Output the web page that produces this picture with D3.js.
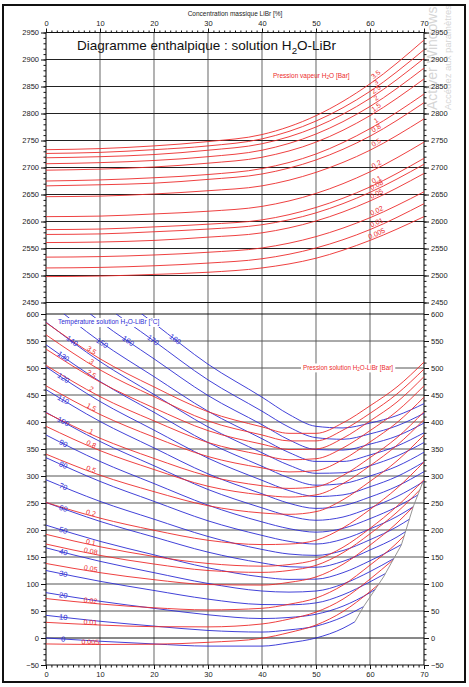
<!DOCTYPE html>
<html><head><meta charset="utf-8">
<script src="https://cdn.jsdelivr.net/npm/d3@7"></script>
<style>body{margin:0;background:#fff}svg{display:block;font-family:"Liberation Sans",Arial,sans-serif}</style>
</head><body><svg id="c" width="469" height="687"></svg>
<script>
// ---------- DATA ----------
const concTicks = [0,10,20,30,40,50,60,70];
const vapTicks = [2450,2500,2550,2600,2650,2700,2750,2800,2850,2900,2950];
const solTicks = [-50,0,50,100,150,200,250,300,350,400,450,500,550,600];

// top chart: vapour enthalpy vs concentration, one series per pressure
const vapourX = [0,10,20,30,40,50,60,70];
const vapourPressures = ["3.5","3","2.5","2","1.5","1","0.8","0.5","0.2","0.1","0.08","0.05","0.02","0.01","0.005"];
const vapourH = [
 [2733,2735,2740,2748,2761,2796,2855,2936],
 [2726,2728,2733,2740,2753,2786,2841,2918],
 [2718,2720,2724,2732,2744,2775,2828,2902],
 [2707,2709,2713,2720,2732,2762,2813,2884],
 [2695,2697,2701,2708,2719,2747,2796,2864],
 [2675,2677,2681,2687,2698,2725,2772,2836],
 [2666,2668,2671,2678,2688,2714,2758,2820],
 [2646,2647,2651,2657,2666,2691,2732,2790],
 [2609,2610,2614,2619,2628,2652,2692,2747],
 [2585,2586,2590,2595,2603,2626,2664,2717],
 [2576,2577,2581,2586,2594,2616,2654,2706],
 [2561,2562,2565,2571,2579,2601,2638,2689],
 [2534,2535,2538,2543,2551,2572,2607,2655],
 [2514,2515,2518,2523,2531,2551,2585,2633],
 [2498,2499,2502,2506,2514,2532,2565,2609]
];
const vapourLabelX = 61.5;

// bottom chart: solution enthalpy
const solX = [0,10,20,30,40,45,50,55,60,65,70];
const isoTemps = [0,10,20,30,40,50,60,70,80,90,100,110,120,130,140,150,160,170,180];
const isoH = [
 [0,-6,-11,-15,-15,-9,0,18],
 [42,31,22,14,11,15,22,39],
 [84,68,55,43,36,38,44,59,84],
 [125,105,88,72,62,61.5,65,80,104],
 [167,142,121,101,87,85,87,100,123],
 [209,179,154,130,113,108.5,109,121,143,168.5],
 [251,216,187,159,139,132,131,142,163,187],
 [293,253,220,188,164,155.5,153,162,182,206],
 [334,290,253,217,190,179,174,183,202,225],
 [376,327,286,246,215,202.5,196,203,221,243],
 [418,364,319,275,241,226,218,224,241,262,290],
 [460,401,352,304,267,249.5,240,245,261,281,308],
 [502,438,385,333,292,273,262,265,280,299,326],
 [543,475,418,362,318,296.5,283,286,300,318,344],
 [585,512,451,391,343,320,305,306,319,337,362],
 [627,549,484,420,369,343.5,327,327,339,355.5,380],
 [669,586,517,449,395,367,349,348,359,374,398],
 [711,623,550,478,420,390.5,371,368,378,393,416],
 [752,660,583,507,446,414,392,389,398,412,434]
];
const isoEnd = [[57.2,30],[58.8,58],[61,90],[62.8,119],[64.4,147],[65.8,173],[66.6,197],[67.3,220],[68,243],[68.9,265],
  null,null,null,null,null,null,null,null,null];
const isoLabelX = [3.2,3.2,3.2,3.2,3.2,3.2,3.2,3.2,3.2,3.2,3.2,3.2,3.2,3.2,4.8,10.4,15.2,19.8,23.9];

const solPressures = ["0.005","0.01","0.02","0.05","0.08","0.1","0.2","0.5","0.8","1","1.5","2","2.5","3","3.5"];
const solH = [
 [-11,-12,-11.5,-8,-0.5,10,24,49,86],
 [29,24,21,20.6,26,35,48,72,109],
 [73,63,56,52,55,62.5,74,98,135,176],
 [138,121,108,99,98,103,113,136.5,172,213],
 [174,153,137,125,121.5,125,134.5,158,193,233],
 [192,169,151,138,133,136,145,168,203,244,293],
 [251,222,199.5,181,173,174,181,204,238,277.5,326],
 [340.5,301.5,271,245,231.5,229,234,256,290,328,376],
 [392,347,312,281,265,261,265,286,319,357,404.5],
 [417,370,332.5,300,282,277,280,301,334,371,419],
 [467,414,372,336,315,307.5,310,330.5,363,399,446],
 [505,447,402,362,339,330,332,352,384,420,467],
 [535,474,426,384,359,349,350,370,402,437,484],
 [561.5,496.5,447,402,376,365,365,385,416,452,498],
 [584,517,465,419,391,379,379,398.5,430,465,511]
];
const solEnd = [[61.7,100],[64.3,145],[66.4,190],[68,243],[69.3,275],null,null,null,null,null,null,null,null,null,null];
const solLabelX = 8.2;

const crystalX = [57.2,58.8,62.5,65.8,68,69.8];
const crystalH = [30,58,113,172,243,289];

// ---------- DRAW ----------
const RED = "#ec2b2b", BLUE = "#2c2cd4";
const svg = d3.select("#c");
const x = d3.scaleLinear().domain([0,70]).range([46,424]);
const yT = d3.scaleLinear().domain([2450,2950]).range([302.5,32.5]);
const yB = d3.scaleLinear().domain([-50,600]).range([665,314]);

svg.append("rect").attr("width",469).attr("height",687).attr("fill","#fff");
const defs = svg.append("defs");
defs.append("clipPath").attr("id","cT").append("rect").attr("x",46).attr("y",32.5).attr("width",378).attr("height",270);
defs.append("clipPath").attr("id","cB").append("rect").attr("x",46).attr("y",314).attr("width",378).attr("height",351);

// watermark
const wm = svg.append("g").attr("fill","#d6d6d6");
wm.append("text").attr("transform","translate(437,110) rotate(-90)").attr("font-size",14).text("Activer Windows");
wm.append("text").attr("transform","translate(451,110) rotate(-90)").attr("font-size",9.5).text("Accédez aux paramètres");

// grid
const grid = svg.append("g");
[10,20,30,40,50,60].forEach(c=>{
  grid.append("line").attr("x1",x(c)).attr("x2",x(c)).attr("y1",yT(2950)).attr("y2",yB(-50)).attr("stroke","#747474").attr("stroke-width",1.1);
});
vapTicks.filter(v=>v>2450&&v<2950).forEach(v=>{
  grid.append("line").attr("x1",46).attr("x2",424).attr("y1",yT(v)).attr("y2",yT(v)).attr("stroke","#222").attr("stroke-width",1);
});
solTicks.filter(v=>v>-50&&v<600).forEach(v=>{
  grid.append("line").attr("x1",46).attr("x2",424).attr("y1",yB(v)).attr("y2",yB(v)).attr("stroke", v===0?"#111":"#555").attr("stroke-width",1);
});
[yT(2950),yT(2450),yB(600),yB(-50)].forEach(yy=>{
  grid.append("line").attr("x1",46).attr("x2",424).attr("y1",yy).attr("y2",yy).attr("stroke","#111").attr("stroke-width",1.1);
});
[46,424].forEach(xx=>{
  grid.append("line").attr("x1",xx).attr("x2",xx).attr("y1",yT(2950)).attr("y2",yB(-50)).attr("stroke","#111").attr("stroke-width",1.1);
});

const line = (ys)=> d3.line().x(d=>x(d[0])).y(d=>ys(d[1])).curve(d3.curveMonotoneX);

function pts(xs, vals, end){
  const p = vals.map((v,i)=>[xs[i],v]);
  if(end) p.push(end);
  return p;
}
function labelAt(p, lx, ys){
  let i = 0;
  for(let k=0;k<p.length-1;k++){ if(p[k][0]<=lx && p[k+1][0]>=lx){i=k;break;} }
  const a=p[i], b=p[i+1];
  const t=(lx-a[0])/(b[0]-a[0]);
  const v=a[1]+t*(b[1]-a[1]);
  const ang=Math.atan2(ys(b[1])-ys(a[1]), x(b[0])-x(a[0]))*180/Math.PI;
  return {px:x(lx), py:ys(v), ang};
}

// top curves
const gT = svg.append("g").attr("clip-path","url(#cT)");
const gTL = svg.append("g");
vapourH.forEach((vals,i)=>{
  const p = pts(vapourX, vals, null);
  gT.append("path").attr("d", line(yT)(p)).attr("fill","none").attr("stroke",RED).attr("stroke-width",0.9);
  const L = labelAt(p, vapourLabelX, yT);
  gTL.append("text").attr("transform",`translate(${L.px},${L.py}) rotate(${L.ang})`)
    .attr("y",-1.2).attr("text-anchor","middle").attr("font-size",7).attr("fill",RED).text(vapourPressures[i]);
});

// bottom curves
const gB = svg.append("g").attr("clip-path","url(#cB)");
const gBL = svg.append("g");
isoH.forEach((vals,i)=>{
  const p = pts(solX, vals, isoEnd[i]);
  gB.append("path").attr("d", line(yB)(p)).attr("fill","none").attr("stroke",BLUE).attr("stroke-width",0.9);
  const L = labelAt(p, isoLabelX[i], yB);
  gBL.append("text").attr("transform",`translate(${L.px},${L.py}) rotate(${L.ang})`)
    .attr("y",2.5).attr("text-anchor","middle").attr("font-size",7.5).attr("fill",BLUE).text(isoTemps[i]);
});
solH.forEach((vals,i)=>{
  const p = pts(solX, vals, solEnd[i]);
  gB.append("path").attr("d", line(yB)(p)).attr("fill","none").attr("stroke",RED).attr("stroke-width",0.9);
  const L = labelAt(p, solLabelX, yB);
  gBL.append("text").attr("transform",`translate(${L.px},${L.py}) rotate(${L.ang})`)
    .attr("y",0).attr("text-anchor","middle").attr("font-size",7).attr("fill",RED).text(solPressures[i]);
});
gB.append("path").attr("d", d3.line().x(d=>x(d[0])).y(d=>yB(d[1]))(crystalX.map((c,i)=>[c,crystalH[i]])))
  .attr("fill","none").attr("stroke","#8a8a8a").attr("stroke-width",0.9);

// axes
function styleAxis(g){ g.select(".domain").remove(); g.selectAll("text").attr("font-size",7.5).attr("fill","#222").attr("font-family","Liberation Sans, Arial, sans-serif"); g.selectAll("line").attr("stroke","#111"); }
const fmt = d3.format("d");
[[yT,vapTicks,2450,2950],[yB,solTicks,-50,600]].forEach(([ys,ticks,lo,hi])=>{
  const minor = d3.range(lo,hi+1,10);
  svg.append("g").attr("transform","translate(46,0)").call(d3.axisLeft(ys).tickValues(minor).tickSize(2.5).tickFormat("")).call(styleAxis);
  svg.append("g").attr("transform","translate(46,0)").call(d3.axisLeft(ys).tickValues(ticks).tickSize(5).tickPadding(2).tickFormat(fmt)).call(styleAxis);
  svg.append("g").attr("transform","translate(424,0)").call(d3.axisRight(ys).tickValues(minor).tickSize(2.5).tickFormat("")).call(styleAxis);
  svg.append("g").attr("transform","translate(424,0)").call(d3.axisRight(ys).tickValues(ticks).tickSize(5).tickPadding(2).tickFormat(fmt)).call(styleAxis);
});
const minorX = d3.range(0,71,1);
svg.append("g").attr("transform",`translate(0,${yT(2950)})`).call(d3.axisTop(x).tickValues(minorX).tickSize(2).tickFormat("")).call(styleAxis);
svg.append("g").attr("transform",`translate(0,${yT(2950)})`).call(d3.axisTop(x).tickValues(concTicks).tickSize(4).tickPadding(3).tickFormat(fmt)).call(styleAxis);
svg.append("g").attr("transform",`translate(0,${yB(-50)})`).call(d3.axisBottom(x).tickValues(minorX).tickSize(2.5).tickFormat("")).call(styleAxis);
svg.append("g").attr("transform",`translate(0,${yB(-50)})`).call(d3.axisBottom(x).tickValues(concTicks).tickSize(4).tickPadding(3).tickFormat(fmt)).call(styleAxis);

// texts
function rich(x0,y0,pre,sub,post,size,color,bg){
  const g = svg.append("g");
  const t = g.append("text").attr("x",x0).attr("y",y0).attr("font-size",size).attr("fill",color);
  t.append("tspan").text(pre);
  t.append("tspan").attr("dy",size*0.3).attr("font-size",size*0.72).text(sub);
  t.append("tspan").attr("dy",-size*0.3).text(post);
  if(bg){ const b=t.node().getBBox(); g.insert("rect","text").attr("x",b.x-2).attr("y",b.y).attr("width",b.width+4).attr("height",b.height).attr("fill","#fff"); }
  return t;
}
svg.append("text").attr("x",235).attr("y",15.5).attr("text-anchor","middle").attr("font-size",6.5).attr("fill","#222").text("Concentration massique LiBr [%]");
rich(77,50,"Diagramme enthalpique : solution H","2","O-LiBr",13.5,"#111",false);
rich(273,77.5,"Pression vapeur H","2","O [Bar]",6.5,RED,false);
rich(58,324,"Température solution H","2","O-LiBr [°C]",6.5,BLUE,true);
rich(303,369.5,"Pression solution H","2","O-LiBr [Bar]",6.3,RED,true);

// frame
svg.append("rect").attr("x",3).attr("y",5).attr("width",462).attr("height",677).attr("fill","none").attr("stroke","#111").attr("stroke-width",2);
</script></body></html>
